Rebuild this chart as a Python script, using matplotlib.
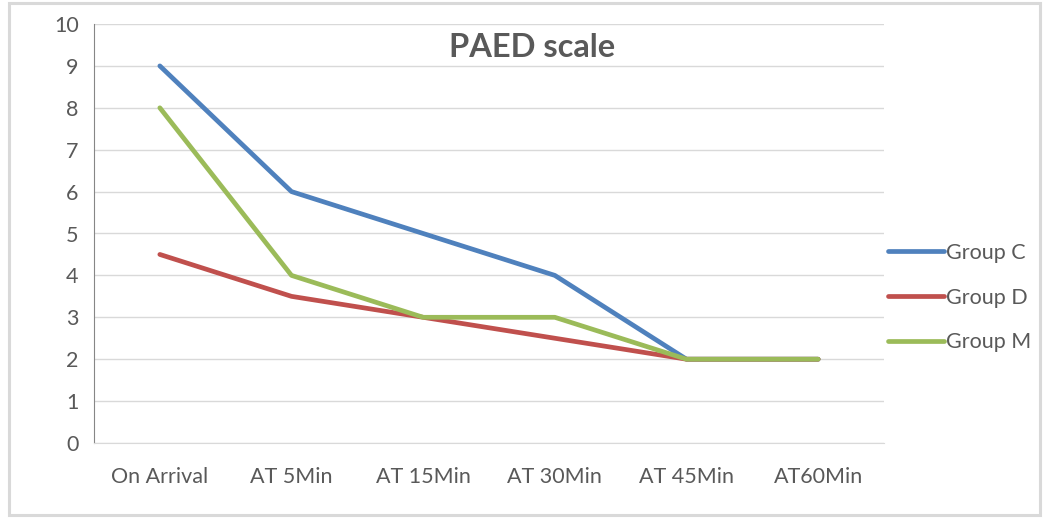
import numpy as np
import matplotlib.pyplot as plt
from matplotlib.patches import Rectangle

categories = ["On Arrival", "AT 5Min", "AT 15Min", "AT 30Min", "AT 45Min", "AT60Min"]
group_c = [9, 6, 5, 4, 2, 2]
group_d = [4.5, 3.5, 3, 2.5, 2, 2]
group_m = [8, 4, 3, 3, 2, 2]

plt.rcParams['font.family'] = ['Lato', 'DejaVu Sans']
txt = '#595959'

W, H = 1047, 519
fig = plt.figure(figsize=(W / 100, H / 100), dpi=100)
fig.patches.append(Rectangle((9 / W, 4 / H), 1031 / W, 512 / H, transform=fig.transFigure,
                             fill=False, edgecolor='#d9d9d9', linewidth=2.2))

ax = fig.add_axes([94 / W, (H - 443) / H, 790 / W, 419 / H])
x = np.arange(len(categories))
ax.plot(x, group_c, color='#4f81bd', lw=3.4, solid_capstyle='round', label='Group C')
ax.plot(x, group_d, color='#c0504d', lw=3.4, solid_capstyle='round', label='Group D')
ax.plot(x, group_m, color='#9bbb59', lw=3.4, solid_capstyle='round', label='Group M')

ax.set_xlim(-0.5, len(categories) - 0.5)
ax.set_ylim(0, 10)
ax.set_yticks(range(0, 11))
ax.set_xticks(x)
ax.set_xticklabels(categories)
ax.grid(axis='y', color='#d9d9d9', lw=1)
ax.set_axisbelow(True)
for s in ['top', 'right']:
    ax.spines[s].set_visible(False)
ax.spines['left'].set_color('#868686')
ax.spines['bottom'].set_color('#d9d9d9')
ax.tick_params(length=0, labelsize=15.5, colors=txt, pad=11)
ax.tick_params(axis='x', pad=17)

ax.text(0.555, 0.945, "PAED scale", transform=ax.transAxes, ha='center', va='center',
        fontsize=23.5, fontweight='bold', color=txt)

fig.legend(loc='upper left', bbox_to_anchor=(877 / W, 1 - 232 / H), frameon=False,
           fontsize=15.5, labelcolor=txt, handlelength=2.6, handletextpad=0.1,
           labelspacing=1.15, borderpad=0)

fig.savefig('out.png', dpi=100)
